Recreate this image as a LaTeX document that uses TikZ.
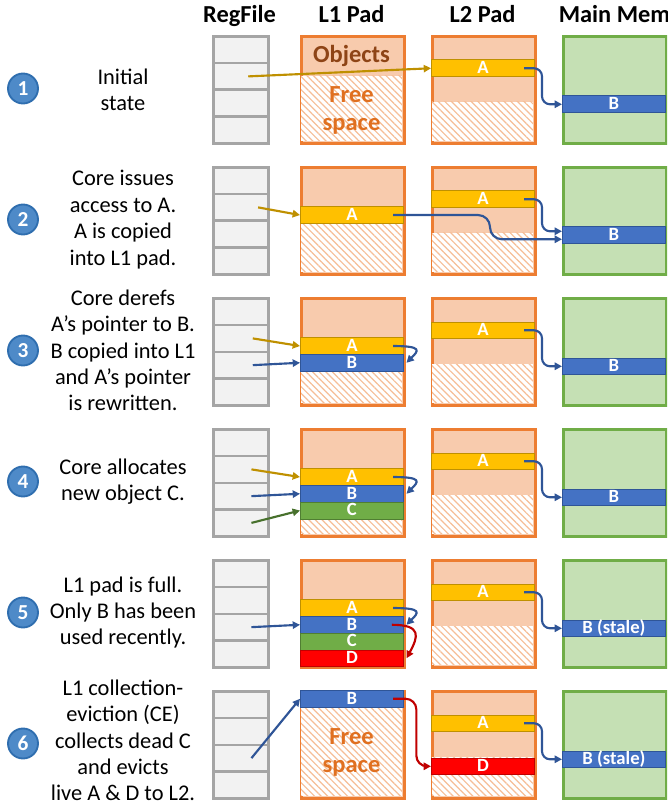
\documentclass[tikz,border=0pt]{standalone}
\usepackage{fontspec}
\setmainfont{Carlito}
\usetikzlibrary{arrows.meta,patterns.meta}
\definecolor{regfill}{HTML}{F2F2F2}
\definecolor{regline}{HTML}{A5A5A5}
\definecolor{padfill}{HTML}{F8CBAD}
\definecolor{padline}{HTML}{ED7D31}
\definecolor{hatchc}{HTML}{F6BE97}
\definecolor{memfill}{HTML}{C5E0B4}
\definecolor{memline}{HTML}{70AD47}
\definecolor{objA}{HTML}{FFC000}
\definecolor{objAline}{HTML}{BF9000}
\definecolor{objB}{HTML}{4472C4}
\definecolor{objBline}{HTML}{2F5597}
\definecolor{objC}{HTML}{70AD47}
\definecolor{objCline}{HTML}{507E32}
\definecolor{objD}{HTML}{FF0000}
\definecolor{objDline}{HTML}{C00000}
\definecolor{objtxt}{HTML}{8E4416}
\definecolor{freetxt}{HTML}{E07020}
\definecolor{numfill}{HTML}{4E8AC8}
\definecolor{numline}{HTML}{2F6EAF}
\newcommand{\pxu}{0.75pt}
\tikzset{
  regcell/.style={draw=regline,fill=regfill,line width=1.9pt,anchor=north west,inner sep=0pt,
    minimum width=55*\pxu,minimum height=26.75*\pxu},
  padbox/.style={draw=padline,fill=padfill,line width=1.9pt,anchor=north west,inner sep=0pt,
    minimum width=103*\pxu,minimum height=107*\pxu},
  membox/.style={padbox,draw=memline,fill=memfill},
  hatch/.style={fill=white,postaction={pattern={Lines[angle=-45,distance=3.5pt,line width=0.9pt]},pattern color=hatchc}},
  band/.style={anchor=north west,inner sep=0pt,line width=0.6pt,minimum width=103*\pxu,
    minimum height=16.75*\pxu,text height=9pt,text depth=1pt,text=white,
    font=\bfseries\fontsize{14}{14}\selectfont},
  aband/.style={band,fill=objA,draw=objAline},
  bband/.style={band,fill=objB,draw=objBline},
  cband/.style={band,fill=objC,draw=objCline},
  dband/.style={band,fill=objD,draw=objDline},
  stepnum/.style={circle,fill=numfill,draw=numline,line width=1.4pt,minimum size=22.5pt,inner sep=0pt,
    text=white,font=\bfseries\fontsize{16}{16}\selectfont},
  steptxt/.style={align=center,font=\fontsize{16.8}{19.8}\selectfont},
  colhead/.style={anchor=base,font=\bfseries\fontsize{18.3}{18.3}\selectfont},
  bigtxt/.style={align=center,font=\bfseries\fontsize{18.4}{21}\selectfont},
  ar/.style={-{Triangle[length=5.5pt,width=5.5pt]},line width=1.6pt},
  goldar/.style={ar,draw=objAline},
  bluear/.style={ar,draw=objBline},
  greenar/.style={ar,draw=objCline!90!black},
  redar/.style={ar,draw=objDline},
}
\begin{document}
\begin{tikzpicture}[x=0.75pt,y=-0.75pt]
\useasboundingbox (0,0) rectangle (667,805);
\clip (0,0) rectangle (667,805);
% column headers
\node[colhead] (hreg) at (239.5,23) {RegFile};
\node[colhead] (hl1) at (351.5,23) {L1 Pad};
\node[colhead] (hl2) at (482.5,23) {L2 Pad};
\node[colhead] (hmm) at (614.5,23) {Main Mem};
% parts that repeat in every row
\foreach \r/\btxt in {1/B,2/B,3/B,4/B,5/{B (stale)},6/{B (stale)}}{
  \pgfmathsetmacro\rowy{35+131*(\r-1)}
  \node[stepnum] (num\r) at (23,\rowy+53.5) {\r};
  \foreach \c in {1,...,4}
    \node[regcell] (reg\r-\c) at (212,{\rowy+26.75*(\c-1)}) {};
  \node[padbox] (l1box\r) at (300,\rowy) {};
  \node[padbox] (l2box\r) at (431,\rowy) {};
  \path[hatch] (431+1.2,\rowy+67) rectangle (431+101.8,\rowy+105.8);
  \node[aband] (l2A\r) at (431,\rowy+24.5) {A};
  \node[membox] (mmbox\r) at (562,\rowy) {};
  \node[bband] (mmB\r) at (562,\rowy+60.5) {\btxt};
}
% step texts
\node[steptxt] (txt1) at (123,90) {Initial\\state};
\node[steptxt] (txt2) at (123,219.5) {Core issues\\access to A.\\A is copied\\into L1 pad.};
\node[steptxt] (txt3) at (123,350.5) {Core derefs\\A’s pointer to B.\\B copied into L1\\and A’s pointer\\is rewritten.};
\node[steptxt] (txt4) at (123,481.5) {Core allocates\\new object C.};
\node[steptxt] (txt5) at (123,612.5) {L1 pad is full.\\Only B has been\\used recently.};
\node[steptxt] (txt6) at (123,740.5) {L1 collection-\\eviction (CE)\\collects dead C\\and evicts\\live A \& D to L2.};
% row 1: initial state
\path[hatch] (300+1.2,35+41) rectangle (300+101.8,35+105.8);
\node[bigtxt,text=objtxt] (objs) at (351.5,56) {Objects};
\node[bigtxt,text=freetxt] (free1) at (351.5,110) {Free\\space};
\draw[goldar] ([xshift=5.6pt]reg1-2.center) -- (l2A1.west);
% row 2: A copied into L1
\path[hatch] (300+1.2,166+57) rectangle (300+101.8,166+105.8);
\node[aband] (l1A2) at (300,166+40.25) {A};
\draw[goldar] ([xshift=13pt]reg2-2.center) -- (l1A2.west);
\draw[bluear,rounded corners=9pt] ([xshift=-8pt]l1A2.east) -| ([xshift=-54pt,yshift=-3pt]mmB2.west) -- ([yshift=-3pt]mmB2.west);
% row 3: B copied into L1
\path[hatch] (300+1.2,297+74.75) rectangle (300+101.8,297+105.8);
\node[aband] (l1A3) at (300,297+40.25) {A};
\node[bband] (l1B3) at (300,297+57) {B};
\draw[goldar] ([xshift=9pt]reg3-2.center) -- (l1A3.west);
\draw[bluear] ([xshift=9pt]reg3-3.center) -- (l1B3.west);
\draw[bluear] ([xshift=-8pt]l1A3.east) .. controls +(30,0) and +(12,-12) .. ([xshift=2pt]l1B3.east);
% row 4: C allocated
\path[hatch] (300+1.2,428+91.5) rectangle (300+101.8,428+105.8);
\node[aband] (l1A4) at (300,428+40.25) {A};
\node[bband] (l1B4) at (300,428+57) {B};
\node[cband] (l1C4) at (300,428+73.75) {C};
\draw[goldar] ([xshift=8pt]reg4-2.center) -- (l1A4.west);
\draw[bluear] ([xshift=8pt]reg4-3.center) -- (l1B4.west);
\draw[greenar] ([xshift=8pt]reg4-4.center) -- (l1C4.west);
\draw[bluear] ([xshift=-8pt]l1A4.east) .. controls +(30,0) and +(12,-12) .. ([xshift=2pt]l1B4.east);
% row 5: L1 full
\node[aband] (l1A5) at (300,559+40.25) {A};
\node[bband] (l1B5) at (300,559+57) {B};
\node[cband] (l1C5) at (300,559+73.75) {C};
\node[dband] (l1D5) at (300,559+90.5) {D};
\draw[bluear] ([xshift=8pt]reg5-3.center) -- (l1B5.west);
\draw[bluear] ([xshift=-8pt]l1A5.east) .. controls +(30,0) and +(12,-12) .. ([xshift=2pt]l1B5.east);
\draw[redar] ([xshift=-9pt]l1B5.east) .. controls +(30,0) and +(12,-22) .. ([xshift=2pt]l1D5.east);
% row 6: collection-eviction
\path[hatch] (300+1.2,690+16.75) rectangle (300+101.8,690+105.8);
\node[bband] (l1B6) at (300,690) {B};
\node[bigtxt,text=freetxt] (free6) at (351.5,752.5) {Free\\space};
\node[dband] (l2D6) at (431,690+67.5) {D};
\draw[bluear] ([xshift=8pt]reg6-3.center) -- (l1B6.west);
\draw[redar,rounded corners=8pt] ([xshift=-8pt]l1B6.east) -| ([xshift=-11pt]l2D6.west) -- (l2D6.west);
% L2 A points to B in main memory
\foreach \r/\dy in {1/0,2/3,3/0,4/0,5/0,6/0}
  \draw[bluear,rounded corners=6pt] ([xshift=-8pt]l2A\r.east) -| ([xshift=-15pt,yshift=\dy pt]mmB\r.west) -- ([yshift=\dy pt]mmB\r.west);
\end{tikzpicture}
\end{document}
